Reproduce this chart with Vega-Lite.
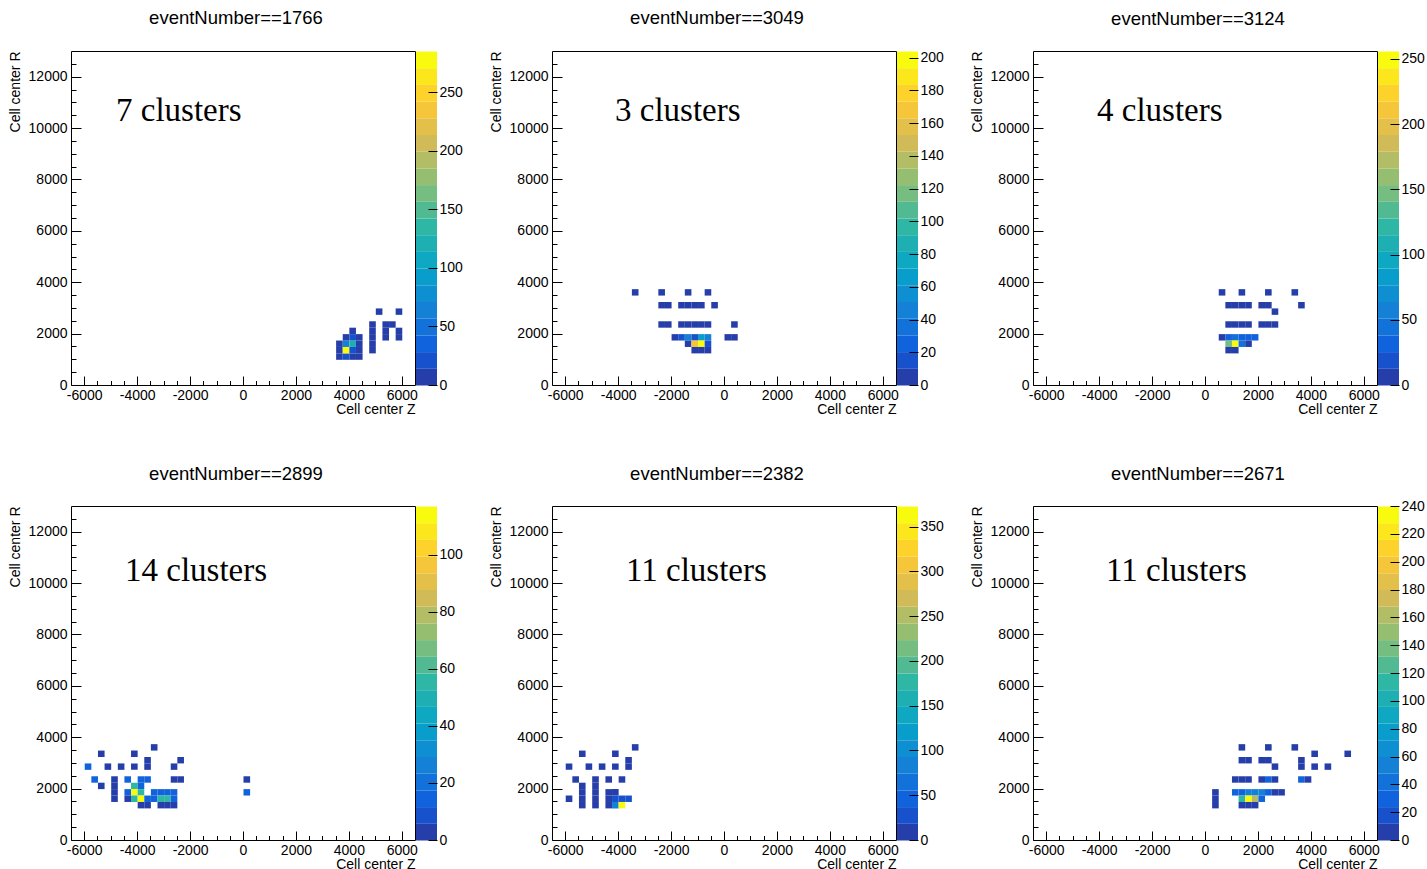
{
"$schema": "https://vega.github.io/schema/vega-lite/v6.json",
"padding": {"left": 7, "top": 8, "right": 0, "bottom": 0},
"background": "white",
"config": {
  "font": "Liberation Sans",
  "view": {"stroke": "black", "strokeWidth": 1},
  "axis": {"grid": false, "domain": false, "labelFont": "Liberation Sans", "labelFontSize": 14, "labelColor": "black", "titleFont": "Liberation Sans", "titleFontSize": 14, "titleFontWeight": "normal", "titleColor": "black", "tickColor": "black", "tickWidth": 1},
  "title": {"font": "Liberation Sans", "fontSize": 18.5, "fontWeight": "normal", "color": "black"}
},
"datasets": {
  "p1": [
    {"z":3625,"r":1125,"v":8},{"z":3625,"r":1375,"v":8},{"z":3625,"r":1625,"v":8},
    {"z":3875,"r":1125,"v":28},{"z":3875,"r":1375,"v":285},{"z":3875,"r":1625,"v":57},{"z":3875,"r":1875,"v":8},
    {"z":4125,"r":1125,"v":8},{"z":4125,"r":1375,"v":28},{"z":4125,"r":1625,"v":128},{"z":4125,"r":1875,"v":28},{"z":4125,"r":2125,"v":8},
    {"z":4375,"r":1125,"v":8},{"z":4375,"r":1375,"v":8},{"z":4375,"r":1625,"v":8},{"z":4375,"r":1875,"v":8},
    {"z":4875,"r":1375,"v":8},{"z":4875,"r":1625,"v":8},{"z":4875,"r":1875,"v":8},{"z":4875,"r":2125,"v":8},{"z":4875,"r":2375,"v":8},
    {"z":5125,"r":2875,"v":8},
    {"z":5375,"r":1875,"v":8},{"z":5375,"r":2125,"v":8},{"z":5375,"r":2375,"v":8},
    {"z":5625,"r":2375,"v":8},
    {"z":5875,"r":1875,"v":8},{"z":5875,"r":2125,"v":8},{"z":5875,"r":2875,"v":8}
  ],
  "p2": [
    {"z":-3375,"r":3625,"v":6},{"z":-2375,"r":3625,"v":6},{"z":-1375,"r":3625,"v":6},{"z":-625,"r":3625,"v":6},
    {"z":-2375,"r":3125,"v":6},{"z":-2125,"r":3125,"v":6},{"z":-1625,"r":3125,"v":6},{"z":-1375,"r":3125,"v":6},{"z":-1125,"r":3125,"v":6},{"z":-875,"r":3125,"v":6},{"z":-375,"r":3125,"v":6},
    {"z":-2375,"r":2375,"v":6},{"z":-2125,"r":2375,"v":6},{"z":-1625,"r":2375,"v":6},{"z":-1375,"r":2375,"v":6},{"z":-1125,"r":2375,"v":6},{"z":-875,"r":2375,"v":6},{"z":-625,"r":2375,"v":6},{"z":375,"r":2375,"v":6},
    {"z":-1875,"r":1875,"v":6},{"z":-1625,"r":1875,"v":20},{"z":-1375,"r":1875,"v":41},{"z":-1125,"r":1875,"v":20},{"z":-875,"r":1875,"v":67},{"z":-625,"r":1875,"v":41},{"z":125,"r":1875,"v":6},{"z":375,"r":1875,"v":6},
    {"z":-1375,"r":1625,"v":6},{"z":-1125,"r":1625,"v":173},{"z":-875,"r":1625,"v":204},{"z":-625,"r":1625,"v":20},
    {"z":-1125,"r":1375,"v":6},{"z":-875,"r":1375,"v":6},{"z":-625,"r":1375,"v":6}
  ],
  "p3": [
    {"z":625,"r":3625,"v":8},{"z":1375,"r":3625,"v":8},{"z":2375,"r":3625,"v":8},{"z":3375,"r":3625,"v":8},
    {"z":875,"r":3125,"v":8},{"z":1125,"r":3125,"v":8},{"z":1375,"r":3125,"v":8},{"z":1625,"r":3125,"v":8},{"z":2125,"r":3125,"v":8},{"z":2375,"r":3125,"v":8},{"z":3625,"r":3125,"v":8},
    {"z":2625,"r":2875,"v":8},
    {"z":875,"r":2375,"v":8},{"z":1125,"r":2375,"v":8},{"z":1375,"r":2375,"v":8},{"z":1625,"r":2375,"v":8},{"z":2125,"r":2375,"v":8},{"z":2375,"r":2375,"v":8},{"z":2625,"r":2375,"v":8},
    {"z":625,"r":1875,"v":8},{"z":875,"r":1875,"v":26},{"z":1125,"r":1875,"v":51},{"z":1375,"r":1875,"v":26},{"z":1625,"r":1875,"v":26},{"z":1875,"r":1875,"v":26},
    {"z":875,"r":1625,"v":141},{"z":1125,"r":1625,"v":256},{"z":1375,"r":1625,"v":51},{"z":1625,"r":1625,"v":8},
    {"z":875,"r":1375,"v":8},{"z":1125,"r":1375,"v":8}
  ],
  "p4": [
    {"z":-3375,"r":3625,"v":4},
    {"z":-5375,"r":3375,"v":4},{"z":-4125,"r":3375,"v":4},
    {"z":-3625,"r":3125,"v":4},{"z":-2375,"r":3125,"v":4},
    {"z":-5875,"r":2875,"v":12},{"z":-5125,"r":2875,"v":4},{"z":-4625,"r":2875,"v":4},{"z":-4125,"r":2875,"v":4},{"z":-3625,"r":2875,"v":4},{"z":-2625,"r":2875,"v":4},
    {"z":-5625,"r":2375,"v":12},{"z":-4875,"r":2375,"v":4},{"z":-4375,"r":2375,"v":12},{"z":-3875,"r":2375,"v":12},{"z":-3625,"r":2375,"v":12},{"z":-2625,"r":2375,"v":4},{"z":-2375,"r":2375,"v":4},{"z":125,"r":2375,"v":4},
    {"z":-5375,"r":2125,"v":4},{"z":-4875,"r":2125,"v":4},{"z":-4125,"r":2125,"v":53},{"z":-3875,"r":2125,"v":12},
    {"z":-4875,"r":1875,"v":4},{"z":-4375,"r":1875,"v":12},{"z":-4125,"r":1875,"v":115},{"z":-3875,"r":1875,"v":53},{"z":-3375,"r":1875,"v":12},{"z":-3125,"r":1875,"v":12},{"z":-2875,"r":1875,"v":12},{"z":-2625,"r":1875,"v":12},{"z":125,"r":1875,"v":12},
    {"z":-4875,"r":1625,"v":4},{"z":-4375,"r":1625,"v":4},{"z":-4125,"r":1625,"v":53},{"z":-3875,"r":1625,"v":115},{"z":-3625,"r":1625,"v":12},{"z":-3375,"r":1625,"v":12},{"z":-3125,"r":1625,"v":53},{"z":-2875,"r":1625,"v":53},{"z":-2625,"r":1625,"v":12},
    {"z":-3875,"r":1375,"v":4},{"z":-3625,"r":1375,"v":4},{"z":-3125,"r":1375,"v":4},{"z":-2875,"r":1375,"v":4},{"z":-2625,"r":1375,"v":4}
  ],
  "p5": [
    {"z":-3375,"r":3625,"v":11},
    {"z":-5375,"r":3375,"v":11},{"z":-4125,"r":3375,"v":11},
    {"z":-3625,"r":3125,"v":11},
    {"z":-5875,"r":2875,"v":11},{"z":-5125,"r":2875,"v":11},{"z":-4625,"r":2875,"v":11},{"z":-4125,"r":2875,"v":11},{"z":-3625,"r":2875,"v":11},
    {"z":-5625,"r":2375,"v":11},{"z":-4875,"r":2375,"v":11},{"z":-4375,"r":2375,"v":11},{"z":-3875,"r":2375,"v":11},
    {"z":-5375,"r":2125,"v":11},{"z":-5375,"r":1875,"v":11},{"z":-5375,"r":1625,"v":11},{"z":-5375,"r":1375,"v":11},
    {"z":-4875,"r":2125,"v":11},{"z":-4875,"r":1875,"v":11},{"z":-4875,"r":1625,"v":11},{"z":-4875,"r":1375,"v":11},
    {"z":-5875,"r":1625,"v":11},
    {"z":-4375,"r":1875,"v":11},{"z":-4125,"r":1875,"v":11},
    {"z":-4375,"r":1625,"v":11},{"z":-4125,"r":1625,"v":37},{"z":-3875,"r":1625,"v":37},{"z":-3625,"r":1625,"v":37},
    {"z":-4375,"r":1375,"v":11},{"z":-4125,"r":1375,"v":75},{"z":-3875,"r":1375,"v":373}
  ],
  "p6": [
    {"z":1375,"r":3625,"v":7},{"z":2375,"r":3625,"v":7},{"z":3375,"r":3625,"v":7},
    {"z":4125,"r":3375,"v":7},{"z":5375,"r":3375,"v":7},
    {"z":1375,"r":3125,"v":7},{"z":1625,"r":3125,"v":7},{"z":2125,"r":3125,"v":7},{"z":2375,"r":3125,"v":7},{"z":3625,"r":3125,"v":7},
    {"z":2625,"r":2875,"v":7},{"z":3625,"r":2875,"v":7},{"z":4125,"r":2875,"v":7},{"z":4625,"r":2875,"v":7},
    {"z":1125,"r":2375,"v":7},{"z":1375,"r":2375,"v":7},{"z":1625,"r":2375,"v":7},{"z":2125,"r":2375,"v":7},{"z":2375,"r":2375,"v":24},{"z":2625,"r":2375,"v":7},{"z":3625,"r":2375,"v":24},{"z":3875,"r":2375,"v":7},
    {"z":375,"r":1875,"v":7},{"z":1125,"r":1875,"v":24},{"z":1375,"r":1875,"v":24},{"z":1625,"r":1875,"v":48},{"z":1875,"r":1875,"v":48},{"z":2125,"r":1875,"v":48},{"z":2375,"r":1875,"v":24},{"z":2625,"r":1875,"v":7},{"z":2875,"r":1875,"v":7},
    {"z":375,"r":1625,"v":7},{"z":1375,"r":1625,"v":108},{"z":1625,"r":1625,"v":240},{"z":1875,"r":1625,"v":156},{"z":2125,"r":1625,"v":24},
    {"z":375,"r":1375,"v":7},{"z":1375,"r":1375,"v":7},{"z":1625,"r":1375,"v":7},{"z":1875,"r":1375,"v":7}
  ],
  "cb1": [{"c":7.125},{"c":21.375},{"c":35.625},{"c":49.875},{"c":64.125},{"c":78.375},{"c":92.625},{"c":106.875},{"c":121.125},{"c":135.375},{"c":149.625},{"c":163.875},{"c":178.125},{"c":192.375},{"c":206.625},{"c":220.875},{"c":235.125},{"c":249.375},{"c":263.625},{"c":277.875}],
  "cb2": [{"c":5.1},{"c":15.3},{"c":25.5},{"c":35.7},{"c":45.9},{"c":56.1},{"c":66.3},{"c":76.5},{"c":86.7},{"c":96.9},{"c":107.1},{"c":117.3},{"c":127.5},{"c":137.7},{"c":147.9},{"c":158.1},{"c":168.3},{"c":178.5},{"c":188.7},{"c":198.9}],
  "cb3": [{"c":6.4},{"c":19.2},{"c":32},{"c":44.8},{"c":57.6},{"c":70.4},{"c":83.2},{"c":96},{"c":108.8},{"c":121.6},{"c":134.4},{"c":147.2},{"c":160},{"c":172.8},{"c":185.6},{"c":198.4},{"c":211.2},{"c":224},{"c":236.8},{"c":249.6}],
  "cb4": [{"c":2.925},{"c":8.775},{"c":14.625},{"c":20.475},{"c":26.325},{"c":32.175},{"c":38.025},{"c":43.875},{"c":49.725},{"c":55.575},{"c":61.425},{"c":67.275},{"c":73.125},{"c":78.975},{"c":84.825},{"c":90.675},{"c":96.525},{"c":102.375},{"c":108.225},{"c":114.075}],
  "cb5": [{"c":9.325},{"c":27.975},{"c":46.625},{"c":65.275},{"c":83.925},{"c":102.575},{"c":121.225},{"c":139.875},{"c":158.525},{"c":177.175},{"c":195.825},{"c":214.475},{"c":233.125},{"c":251.775},{"c":270.425},{"c":289.075},{"c":307.725},{"c":326.375},{"c":345.025},{"c":363.675}],
  "cb6": [{"c":6},{"c":18},{"c":30},{"c":42},{"c":54},{"c":66},{"c":78},{"c":90},{"c":102},{"c":114},{"c":126},{"c":138},{"c":150},{"c":162},{"c":174},{"c":186},{"c":198},{"c":210},{"c":222},{"c":234}]
},
"bounds": "flush",
"columns": 3,
"spacing": {"row": 121, "column": 137},
"resolve": {"scale": {"color": "independent"}},
"concat": [
   {"width": 344, "height": 334,
    "title": {"text": "eventNumber==1766", "anchor": "middle", "frame": "group", "baseline": "alphabetic", "offset": 8, "dx": -7, "dy": -1},
    "resolve": {"scale": {"y": "independent"}},
    "layer": [
     {"data": {"name": "p1"}, "mark": {"type": "rect"},
      "encoding": {
       "x": {"field": "z", "type": "quantitative", "bin": {"extent": [-6500, 6500], "step": 250, "nice": false}, "scale": {"domain": [-6500, 6500], "nice": false, "zero": false},
             "axis": {"values": [-6000,-5500,-5000,-4500,-4000,-3500,-3000,-2500,-2000,-1500,-1000,-500,0,500,1000,1500,2000,2500,3000,3500,4000,4500,5000,5500,6000], "labelExpr": "datum.value % 2000 === 0 ? '' + datum.value : ''", "tickSize": {"condition": {"test": "datum.value % 2000 === 0", "value": -9}, "value": -4.5}, "labelPadding": 12, "labelFlush": false, "labelOverlap": false, "title": "Cell center Z", "titleX": 344, "titleY": 28, "titleAlign": "right", "titleBaseline": "alphabetic", "titleAnchor": "end"}},
       "y": {"field": "r", "type": "quantitative", "bin": {"extent": [0, 13000], "step": 250, "nice": false}, "scale": {"domain": [0, 13000], "nice": false, "zero": false},
             "axis": {"values": [0,500,1000,1500,2000,2500,3000,3500,4000,4500,5000,5500,6000,6500,7000,7500,8000,8500,9000,9500,10000,10500,11000,11500,12000,12500], "labelExpr": "datum.value % 2000 === 0 ? '' + datum.value : ''", "tickSize": {"condition": {"test": "datum.value % 2000 === 0", "value": -10}, "value": -5}, "labelPadding": 14, "labelFlush": false, "labelOverlap": false, "title": "Cell center R", "titleAngle": 270, "titleX": -56, "titleY": 0, "titleAlign": "right", "titleBaseline": "middle", "titleAnchor": "end"}},
       "color": {"aggregate": "sum", "field": "v", "type": "quantitative", "scale": {"type": "quantize", "domain": [0, 285], "nice": false, "zero": false, "range": ["#263ea9","#1752cc","#1063dc","#1272d9","#1481d6","#0e8fd1","#099dcc","#0ea8c2","#1eafb3","#2eb7a4","#52ba92","#75bd80","#96be71","#b3bd65","#d1bb59","#e3c049","#f5c53a","#fdd22b","#fbe71c","#f9fb0e"]}, "legend": null}}},
     {"data": {"values": [{"z": -4799, "r": 10275, "t": "7 clusters"}]},
      "mark": {"type": "text", "align": "left", "baseline": "alphabetic", "font": "Liberation Serif", "fontSize": 33, "color": "black"},
      "encoding": {"x": {"field": "z", "type": "quantitative"}, "y": {"field": "r", "type": "quantitative", "scale": {"domain": [0, 13000], "nice": false, "zero": false}, "axis": null}, "text": {"field": "t", "type": "nominal"}}},
     {"data": {"name": "cb1"}, "mark": {"type": "rect"},
      "encoding": {
       "x": {"datum": 6538, "type": "quantitative"}, "x2": {"datum": 7331},
       "y": {"field": "c", "type": "quantitative", "bin": {"extent": [0, 285], "step": 14.25, "nice": false}, "scale": {"domain": [0, 285], "nice": false, "zero": false},
             "axis": {"orient": "right", "offset": 22, "title": null, "values": [0,50,100,150,200,250], "labelExpr": "'' + datum.value", "tickSize": -9, "labelPadding": 11, "labelFlush": false, "labelOverlap": false}},
       "color": {"field": "c", "type": "quantitative", "scale": {"type": "quantize", "domain": [0, 285], "nice": false, "zero": false, "range": ["#263ea9","#1752cc","#1063dc","#1272d9","#1481d6","#0e8fd1","#099dcc","#0ea8c2","#1eafb3","#2eb7a4","#52ba92","#75bd80","#96be71","#b3bd65","#d1bb59","#e3c049","#f5c53a","#fdd22b","#fbe71c","#f9fb0e"]}, "legend": null}}}
    ]},
   {"width": 344, "height": 334,
    "title": {"text": "eventNumber==3049", "anchor": "middle", "frame": "group", "baseline": "alphabetic", "offset": 8, "dx": -7, "dy": 0},
    "resolve": {"scale": {"y": "independent"}},
    "layer": [
     {"data": {"name": "p2"}, "mark": {"type": "rect"},
      "encoding": {
       "x": {"field": "z", "type": "quantitative", "bin": {"extent": [-6500, 6500], "step": 250, "nice": false}, "scale": {"domain": [-6500, 6500], "nice": false, "zero": false},
             "axis": {"values": [-6000,-5500,-5000,-4500,-4000,-3500,-3000,-2500,-2000,-1500,-1000,-500,0,500,1000,1500,2000,2500,3000,3500,4000,4500,5000,5500,6000], "labelExpr": "datum.value % 2000 === 0 ? '' + datum.value : ''", "tickSize": {"condition": {"test": "datum.value % 2000 === 0", "value": -9}, "value": -4.5}, "labelPadding": 12, "labelFlush": false, "labelOverlap": false, "title": "Cell center Z", "titleX": 344, "titleY": 28, "titleAlign": "right", "titleBaseline": "alphabetic", "titleAnchor": "end"}},
       "y": {"field": "r", "type": "quantitative", "bin": {"extent": [0, 13000], "step": 250, "nice": false}, "scale": {"domain": [0, 13000], "nice": false, "zero": false},
             "axis": {"values": [0,500,1000,1500,2000,2500,3000,3500,4000,4500,5000,5500,6000,6500,7000,7500,8000,8500,9000,9500,10000,10500,11000,11500,12000,12500], "labelExpr": "datum.value % 2000 === 0 ? '' + datum.value : ''", "tickSize": {"condition": {"test": "datum.value % 2000 === 0", "value": -10}, "value": -5}, "labelPadding": 14, "labelFlush": false, "labelOverlap": false, "title": "Cell center R", "titleAngle": 270, "titleX": -56, "titleY": 0, "titleAlign": "right", "titleBaseline": "middle", "titleAnchor": "end"}},
       "color": {"aggregate": "sum", "field": "v", "type": "quantitative", "scale": {"type": "quantize", "domain": [0, 204], "nice": false, "zero": false, "range": ["#263ea9","#1752cc","#1063dc","#1272d9","#1481d6","#0e8fd1","#099dcc","#0ea8c2","#1eafb3","#2eb7a4","#52ba92","#75bd80","#96be71","#b3bd65","#d1bb59","#e3c049","#f5c53a","#fdd22b","#fbe71c","#f9fb0e"]}, "legend": null}}},
     {"data": {"values": [{"z": -4119, "r": 10275, "t": "3 clusters"}]},
      "mark": {"type": "text", "align": "left", "baseline": "alphabetic", "font": "Liberation Serif", "fontSize": 33, "color": "black"},
      "encoding": {"x": {"field": "z", "type": "quantitative"}, "y": {"field": "r", "type": "quantitative", "scale": {"domain": [0, 13000], "nice": false, "zero": false}, "axis": null}, "text": {"field": "t", "type": "nominal"}}},
     {"data": {"name": "cb2"}, "mark": {"type": "rect"},
      "encoding": {
       "x": {"datum": 6538, "type": "quantitative"}, "x2": {"datum": 7331},
       "y": {"field": "c", "type": "quantitative", "bin": {"extent": [0, 204], "step": 10.2, "nice": false}, "scale": {"domain": [0, 204], "nice": false, "zero": false},
             "axis": {"orient": "right", "offset": 22, "title": null, "values": [0,20,40,60,80,100,120,140,160,180,200], "labelExpr": "'' + datum.value", "tickSize": -9, "labelPadding": 11, "labelFlush": false, "labelOverlap": false}},
       "color": {"field": "c", "type": "quantitative", "scale": {"type": "quantize", "domain": [0, 204], "nice": false, "zero": false, "range": ["#263ea9","#1752cc","#1063dc","#1272d9","#1481d6","#0e8fd1","#099dcc","#0ea8c2","#1eafb3","#2eb7a4","#52ba92","#75bd80","#96be71","#b3bd65","#d1bb59","#e3c049","#f5c53a","#fdd22b","#fbe71c","#f9fb0e"]}, "legend": null}}}
    ]},
   {"width": 344, "height": 334,
    "title": {"text": "eventNumber==3124", "anchor": "middle", "frame": "group", "baseline": "alphabetic", "offset": 8, "dx": -7},
    "resolve": {"scale": {"y": "independent"}},
    "layer": [
     {"data": {"name": "p3"}, "mark": {"type": "rect"},
      "encoding": {
       "x": {"field": "z", "type": "quantitative", "bin": {"extent": [-6500, 6500], "step": 250, "nice": false}, "scale": {"domain": [-6500, 6500], "nice": false, "zero": false},
             "axis": {"values": [-6000,-5500,-5000,-4500,-4000,-3500,-3000,-2500,-2000,-1500,-1000,-500,0,500,1000,1500,2000,2500,3000,3500,4000,4500,5000,5500,6000], "labelExpr": "datum.value % 2000 === 0 ? '' + datum.value : ''", "tickSize": {"condition": {"test": "datum.value % 2000 === 0", "value": -9}, "value": -4.5}, "labelPadding": 12, "labelFlush": false, "labelOverlap": false, "title": "Cell center Z", "titleX": 344, "titleY": 28, "titleAlign": "right", "titleBaseline": "alphabetic", "titleAnchor": "end"}},
       "y": {"field": "r", "type": "quantitative", "bin": {"extent": [0, 13000], "step": 250, "nice": false}, "scale": {"domain": [0, 13000], "nice": false, "zero": false},
             "axis": {"values": [0,500,1000,1500,2000,2500,3000,3500,4000,4500,5000,5500,6000,6500,7000,7500,8000,8500,9000,9500,10000,10500,11000,11500,12000,12500], "labelExpr": "datum.value % 2000 === 0 ? '' + datum.value : ''", "tickSize": {"condition": {"test": "datum.value % 2000 === 0", "value": -10}, "value": -5}, "labelPadding": 14, "labelFlush": false, "labelOverlap": false, "title": "Cell center R", "titleAngle": 270, "titleX": -56, "titleY": 0, "titleAlign": "right", "titleBaseline": "middle", "titleAnchor": "end"}},
       "color": {"aggregate": "sum", "field": "v", "type": "quantitative", "scale": {"type": "quantize", "domain": [0, 256], "nice": false, "zero": false, "range": ["#263ea9","#1752cc","#1063dc","#1272d9","#1481d6","#0e8fd1","#099dcc","#0ea8c2","#1eafb3","#2eb7a4","#52ba92","#75bd80","#96be71","#b3bd65","#d1bb59","#e3c049","#f5c53a","#fdd22b","#fbe71c","#f9fb0e"]}, "legend": null}}},
     {"data": {"values": [{"z": -4081, "r": 10275, "t": "4 clusters"}]},
      "mark": {"type": "text", "align": "left", "baseline": "alphabetic", "font": "Liberation Serif", "fontSize": 33, "color": "black"},
      "encoding": {"x": {"field": "z", "type": "quantitative"}, "y": {"field": "r", "type": "quantitative", "scale": {"domain": [0, 13000], "nice": false, "zero": false}, "axis": null}, "text": {"field": "t", "type": "nominal"}}},
     {"data": {"name": "cb3"}, "mark": {"type": "rect"},
      "encoding": {
       "x": {"datum": 6538, "type": "quantitative"}, "x2": {"datum": 7331},
       "y": {"field": "c", "type": "quantitative", "bin": {"extent": [0, 256], "step": 12.8, "nice": false}, "scale": {"domain": [0, 256], "nice": false, "zero": false},
             "axis": {"orient": "right", "offset": 22, "title": null, "values": [0,50,100,150,200,250], "labelExpr": "'' + datum.value", "tickSize": -9, "labelPadding": 11, "labelFlush": false, "labelOverlap": false}},
       "color": {"field": "c", "type": "quantitative", "scale": {"type": "quantize", "domain": [0, 256], "nice": false, "zero": false, "range": ["#263ea9","#1752cc","#1063dc","#1272d9","#1481d6","#0e8fd1","#099dcc","#0ea8c2","#1eafb3","#2eb7a4","#52ba92","#75bd80","#96be71","#b3bd65","#d1bb59","#e3c049","#f5c53a","#fdd22b","#fbe71c","#f9fb0e"]}, "legend": null}}}
    ]},
   {"width": 344, "height": 334,
    "title": {"text": "eventNumber==2899", "anchor": "middle", "frame": "group", "baseline": "alphabetic", "offset": 8, "dx": -7},
    "resolve": {"scale": {"y": "independent"}},
    "layer": [
     {"data": {"name": "p4"}, "mark": {"type": "rect"},
      "encoding": {
       "x": {"field": "z", "type": "quantitative", "bin": {"extent": [-6500, 6500], "step": 250, "nice": false}, "scale": {"domain": [-6500, 6500], "nice": false, "zero": false},
             "axis": {"values": [-6000,-5500,-5000,-4500,-4000,-3500,-3000,-2500,-2000,-1500,-1000,-500,0,500,1000,1500,2000,2500,3000,3500,4000,4500,5000,5500,6000], "labelExpr": "datum.value % 2000 === 0 ? '' + datum.value : ''", "tickSize": {"condition": {"test": "datum.value % 2000 === 0", "value": -9}, "value": -4.5}, "labelPadding": 12, "labelFlush": false, "labelOverlap": false, "title": "Cell center Z", "titleX": 344, "titleY": 28, "titleAlign": "right", "titleBaseline": "alphabetic", "titleAnchor": "end"}},
       "y": {"field": "r", "type": "quantitative", "bin": {"extent": [0, 13000], "step": 250, "nice": false}, "scale": {"domain": [0, 13000], "nice": false, "zero": false},
             "axis": {"values": [0,500,1000,1500,2000,2500,3000,3500,4000,4500,5000,5500,6000,6500,7000,7500,8000,8500,9000,9500,10000,10500,11000,11500,12000,12500], "labelExpr": "datum.value % 2000 === 0 ? '' + datum.value : ''", "tickSize": {"condition": {"test": "datum.value % 2000 === 0", "value": -10}, "value": -5}, "labelPadding": 14, "labelFlush": false, "labelOverlap": false, "title": "Cell center R", "titleAngle": 270, "titleX": -56, "titleY": 0, "titleAlign": "right", "titleBaseline": "middle", "titleAnchor": "end"}},
       "color": {"aggregate": "sum", "field": "v", "type": "quantitative", "scale": {"type": "quantize", "domain": [0, 117], "nice": false, "zero": false, "range": ["#263ea9","#1752cc","#1063dc","#1272d9","#1481d6","#0e8fd1","#099dcc","#0ea8c2","#1eafb3","#2eb7a4","#52ba92","#75bd80","#96be71","#b3bd65","#d1bb59","#e3c049","#f5c53a","#fdd22b","#fbe71c","#f9fb0e"]}, "legend": null}}},
     {"data": {"values": [{"z": -4459, "r": 10080, "t": "14 clusters"}]},
      "mark": {"type": "text", "align": "left", "baseline": "alphabetic", "font": "Liberation Serif", "fontSize": 33, "color": "black"},
      "encoding": {"x": {"field": "z", "type": "quantitative"}, "y": {"field": "r", "type": "quantitative", "scale": {"domain": [0, 13000], "nice": false, "zero": false}, "axis": null}, "text": {"field": "t", "type": "nominal"}}},
     {"data": {"name": "cb4"}, "mark": {"type": "rect"},
      "encoding": {
       "x": {"datum": 6538, "type": "quantitative"}, "x2": {"datum": 7331},
       "y": {"field": "c", "type": "quantitative", "bin": {"extent": [0, 117], "step": 5.85, "nice": false}, "scale": {"domain": [0, 117], "nice": false, "zero": false},
             "axis": {"orient": "right", "offset": 22, "title": null, "values": [0,20,40,60,80,100], "labelExpr": "'' + datum.value", "tickSize": -9, "labelPadding": 11, "labelFlush": false, "labelOverlap": false}},
       "color": {"field": "c", "type": "quantitative", "scale": {"type": "quantize", "domain": [0, 117], "nice": false, "zero": false, "range": ["#263ea9","#1752cc","#1063dc","#1272d9","#1481d6","#0e8fd1","#099dcc","#0ea8c2","#1eafb3","#2eb7a4","#52ba92","#75bd80","#96be71","#b3bd65","#d1bb59","#e3c049","#f5c53a","#fdd22b","#fbe71c","#f9fb0e"]}, "legend": null}}}
    ]},
   {"width": 344, "height": 334,
    "title": {"text": "eventNumber==2382", "anchor": "middle", "frame": "group", "baseline": "alphabetic", "offset": 8, "dx": -7},
    "resolve": {"scale": {"y": "independent"}},
    "layer": [
     {"data": {"name": "p5"}, "mark": {"type": "rect"},
      "encoding": {
       "x": {"field": "z", "type": "quantitative", "bin": {"extent": [-6500, 6500], "step": 250, "nice": false}, "scale": {"domain": [-6500, 6500], "nice": false, "zero": false},
             "axis": {"values": [-6000,-5500,-5000,-4500,-4000,-3500,-3000,-2500,-2000,-1500,-1000,-500,0,500,1000,1500,2000,2500,3000,3500,4000,4500,5000,5500,6000], "labelExpr": "datum.value % 2000 === 0 ? '' + datum.value : ''", "tickSize": {"condition": {"test": "datum.value % 2000 === 0", "value": -9}, "value": -4.5}, "labelPadding": 12, "labelFlush": false, "labelOverlap": false, "title": "Cell center Z", "titleX": 344, "titleY": 28, "titleAlign": "right", "titleBaseline": "alphabetic", "titleAnchor": "end"}},
       "y": {"field": "r", "type": "quantitative", "bin": {"extent": [0, 13000], "step": 250, "nice": false}, "scale": {"domain": [0, 13000], "nice": false, "zero": false},
             "axis": {"values": [0,500,1000,1500,2000,2500,3000,3500,4000,4500,5000,5500,6000,6500,7000,7500,8000,8500,9000,9500,10000,10500,11000,11500,12000,12500], "labelExpr": "datum.value % 2000 === 0 ? '' + datum.value : ''", "tickSize": {"condition": {"test": "datum.value % 2000 === 0", "value": -10}, "value": -5}, "labelPadding": 14, "labelFlush": false, "labelOverlap": false, "title": "Cell center R", "titleAngle": 270, "titleX": -56, "titleY": 0, "titleAlign": "right", "titleBaseline": "middle", "titleAnchor": "end"}},
       "color": {"aggregate": "sum", "field": "v", "type": "quantitative", "scale": {"type": "quantize", "domain": [0, 373], "nice": false, "zero": false, "range": ["#263ea9","#1752cc","#1063dc","#1272d9","#1481d6","#0e8fd1","#099dcc","#0ea8c2","#1eafb3","#2eb7a4","#52ba92","#75bd80","#96be71","#b3bd65","#d1bb59","#e3c049","#f5c53a","#fdd22b","#fbe71c","#f9fb0e"]}, "legend": null}}},
     {"data": {"values": [{"z": -3704, "r": 10080, "t": "11 clusters"}]},
      "mark": {"type": "text", "align": "left", "baseline": "alphabetic", "font": "Liberation Serif", "fontSize": 33, "color": "black"},
      "encoding": {"x": {"field": "z", "type": "quantitative"}, "y": {"field": "r", "type": "quantitative", "scale": {"domain": [0, 13000], "nice": false, "zero": false}, "axis": null}, "text": {"field": "t", "type": "nominal"}}},
     {"data": {"name": "cb5"}, "mark": {"type": "rect"},
      "encoding": {
       "x": {"datum": 6538, "type": "quantitative"}, "x2": {"datum": 7331},
       "y": {"field": "c", "type": "quantitative", "bin": {"extent": [0, 373], "step": 18.65, "nice": false}, "scale": {"domain": [0, 373], "nice": false, "zero": false},
             "axis": {"orient": "right", "offset": 22, "title": null, "values": [0,50,100,150,200,250,300,350], "labelExpr": "'' + datum.value", "tickSize": -9, "labelPadding": 11, "labelFlush": false, "labelOverlap": false}},
       "color": {"field": "c", "type": "quantitative", "scale": {"type": "quantize", "domain": [0, 373], "nice": false, "zero": false, "range": ["#263ea9","#1752cc","#1063dc","#1272d9","#1481d6","#0e8fd1","#099dcc","#0ea8c2","#1eafb3","#2eb7a4","#52ba92","#75bd80","#96be71","#b3bd65","#d1bb59","#e3c049","#f5c53a","#fdd22b","#fbe71c","#f9fb0e"]}, "legend": null}}}
    ]},
   {"width": 344, "height": 334,
    "title": {"text": "eventNumber==2671", "anchor": "middle", "frame": "group", "baseline": "alphabetic", "offset": 8, "dx": -7, "dy": 7},
    "resolve": {"scale": {"y": "independent"}},
    "layer": [
     {"data": {"name": "p6"}, "mark": {"type": "rect"},
      "encoding": {
       "x": {"field": "z", "type": "quantitative", "bin": {"extent": [-6500, 6500], "step": 250, "nice": false}, "scale": {"domain": [-6500, 6500], "nice": false, "zero": false},
             "axis": {"values": [-6000,-5500,-5000,-4500,-4000,-3500,-3000,-2500,-2000,-1500,-1000,-500,0,500,1000,1500,2000,2500,3000,3500,4000,4500,5000,5500,6000], "labelExpr": "datum.value % 2000 === 0 ? '' + datum.value : ''", "tickSize": {"condition": {"test": "datum.value % 2000 === 0", "value": -9}, "value": -4.5}, "labelPadding": 12, "labelFlush": false, "labelOverlap": false, "title": "Cell center Z", "titleX": 344, "titleY": 28, "titleAlign": "right", "titleBaseline": "alphabetic", "titleAnchor": "end"}},
       "y": {"field": "r", "type": "quantitative", "bin": {"extent": [0, 13000], "step": 250, "nice": false}, "scale": {"domain": [0, 13000], "nice": false, "zero": false},
             "axis": {"values": [0,500,1000,1500,2000,2500,3000,3500,4000,4500,5000,5500,6000,6500,7000,7500,8000,8500,9000,9500,10000,10500,11000,11500,12000,12500], "labelExpr": "datum.value % 2000 === 0 ? '' + datum.value : ''", "tickSize": {"condition": {"test": "datum.value % 2000 === 0", "value": -10}, "value": -5}, "labelPadding": 14, "labelFlush": false, "labelOverlap": false, "title": "Cell center R", "titleAngle": 270, "titleX": -56, "titleY": 0, "titleAlign": "right", "titleBaseline": "middle", "titleAnchor": "end"}},
       "color": {"aggregate": "sum", "field": "v", "type": "quantitative", "scale": {"type": "quantize", "domain": [0, 240], "nice": false, "zero": false, "range": ["#263ea9","#1752cc","#1063dc","#1272d9","#1481d6","#0e8fd1","#099dcc","#0ea8c2","#1eafb3","#2eb7a4","#52ba92","#75bd80","#96be71","#b3bd65","#d1bb59","#e3c049","#f5c53a","#fdd22b","#fbe71c","#f9fb0e"]}, "legend": null}}},
     {"data": {"values": [{"z": -3741, "r": 10080, "t": "11 clusters"}]},
      "mark": {"type": "text", "align": "left", "baseline": "alphabetic", "font": "Liberation Serif", "fontSize": 33, "color": "black"},
      "encoding": {"x": {"field": "z", "type": "quantitative"}, "y": {"field": "r", "type": "quantitative", "scale": {"domain": [0, 13000], "nice": false, "zero": false}, "axis": null}, "text": {"field": "t", "type": "nominal"}}},
     {"data": {"name": "cb6"}, "mark": {"type": "rect"},
      "encoding": {
       "x": {"datum": 6538, "type": "quantitative"}, "x2": {"datum": 7331},
       "y": {"field": "c", "type": "quantitative", "bin": {"extent": [0, 240], "step": 12, "nice": false}, "scale": {"domain": [0, 240], "nice": false, "zero": false},
             "axis": {"orient": "right", "offset": 22, "title": null, "values": [0,20,40,60,80,100,120,140,160,180,200,220,240], "labelExpr": "'' + datum.value", "tickSize": -9, "labelPadding": 11, "labelFlush": false, "labelOverlap": false}},
       "color": {"field": "c", "type": "quantitative", "scale": {"type": "quantize", "domain": [0, 240], "nice": false, "zero": false, "range": ["#263ea9","#1752cc","#1063dc","#1272d9","#1481d6","#0e8fd1","#099dcc","#0ea8c2","#1eafb3","#2eb7a4","#52ba92","#75bd80","#96be71","#b3bd65","#d1bb59","#e3c049","#f5c53a","#fdd22b","#fbe71c","#f9fb0e"]}, "legend": null}}}
    ]}
]
}
